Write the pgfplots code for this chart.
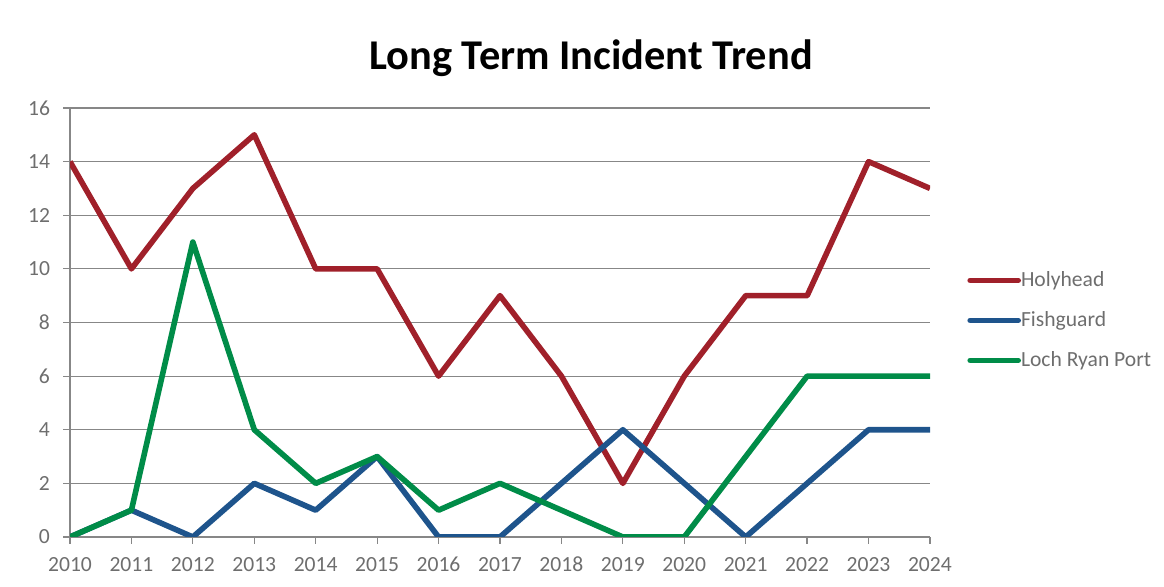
\documentclass[border=0pt]{standalone}
\usepackage{pgfplots}
\pgfplotsset{compat=1.18}
\usepackage{fontspec}
\setmainfont{Carlito}
\definecolor{holy}{RGB}{160,32,42}
\definecolor{fish}{RGB}{30,84,140}
\definecolor{loch}{RGB}{0,140,72}
\definecolor{gridc}{RGB}{135,135,135}
\definecolor{labc}{RGB}{110,110,110}
\begin{document}
\begin{tikzpicture}
\useasboundingbox (0,0) rectangle (582pt,293.5pt);
\node[font=\bfseries\fontsize{21.2}{24}\selectfont] at (295.5pt,264.5pt) {Long Term Incident Trend};
\begin{axis}[
  at={(35pt,25pt)}, anchor=south west,
  scale only axis, width=430pt, height=214.5pt,
  xmin=2010, xmax=2024, ymin=0, ymax=16,
  xtick={2010,...,2024}, ytick={0,2,...,16},
  x tick label style={/pgf/number format/1000 sep={}},
  /pgf/number format/assume math mode=true,
  ticklabel style={font=\fontsize{10.8}{12}\selectfont, text=labc},
  axis lines*=left,
  axis line style={gridc, line width=0.6pt},
  tick style={gridc, line width=0.6pt},
  tick align=outside, major tick length=3.5pt,
  ymajorgrids, grid style={gridc, line width=0.6pt},
  yticklabel style={xshift=-3pt},
  xticklabel style={yshift=-2pt, text height=8pt, text depth=0pt},
  line join=round,
  legend style={at={(448.5pt,135pt)}, anchor=north west, draw=none, fill=none,
    font=\fontsize{10.8}{12}\selectfont, text=labc, row sep=7pt,
    legend cell align=left, inner sep=0pt},
  legend image code/.code={\draw[#1, line cap=round] (0pt,0pt) -- (24pt,0pt);},
  legend style={/tikz/every odd column/.append style={column sep=-2pt}},
]
\addplot[holy, line width=2.8pt] coordinates {
 (2010,14) (2011,10) (2012,13) (2013,15) (2014,10) (2015,10) (2016,6) (2017,9)
 (2018,6) (2019,2) (2020,6) (2021,9) (2022,9) (2023,14) (2024,13)};
\addlegendentry{Holyhead}
\addplot[fish, line width=2.8pt] coordinates {
 (2010,0) (2011,1) (2012,0) (2013,2) (2014,1) (2015,3) (2016,0) (2017,0)
 (2018,2) (2019,4) (2020,2) (2021,0) (2022,2) (2023,4) (2024,4)};
\addlegendentry{Fishguard}
\addplot[loch, line width=2.8pt] coordinates {
 (2010,0) (2011,1) (2012,11) (2013,4) (2014,2) (2015,3) (2016,1) (2017,2)
 (2018,1) (2019,0) (2020,0) (2021,3) (2022,6) (2023,6) (2024,6)};
\addlegendentry{Loch Ryan Port}
\end{axis}
\end{tikzpicture}
\end{document}
